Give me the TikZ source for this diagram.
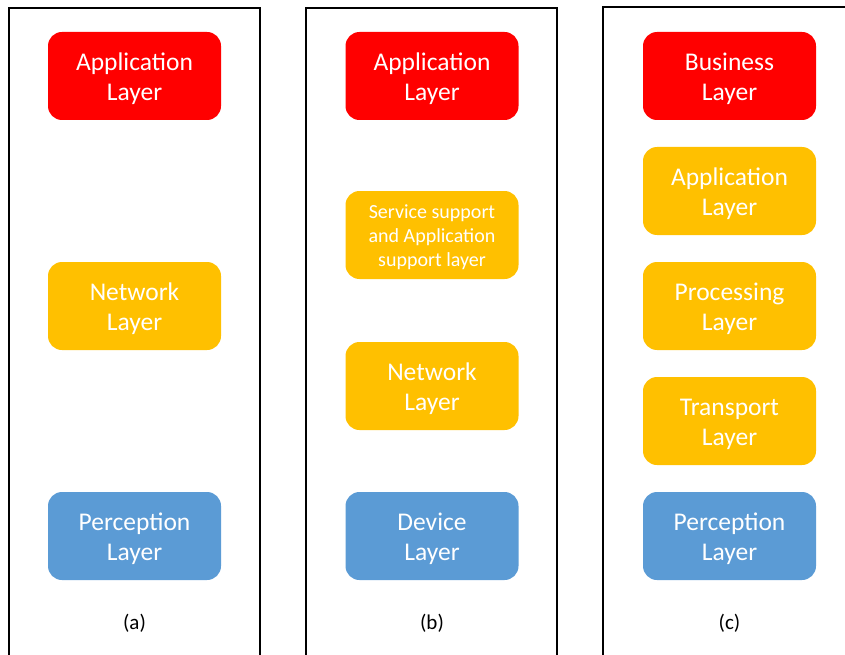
\documentclass[tikz,border=0pt]{standalone}
\usepackage{fontspec}
\setmainfont{Carlito}
\definecolor{lred}{HTML}{FF0000}
\definecolor{lorange}{HTML}{FFC000}
\definecolor{lblue}{HTML}{5B9BD5}
\begin{document}
\begin{tikzpicture}[x=1pt,y=-1pt,
  layer/.style={rounded corners=14pt,minimum width=173pt,minimum height=88pt,
    inner sep=0pt},
  redl/.style={layer,fill=lred},
  orl/.style={layer,fill=lorange},
  bll/.style={layer,fill=lblue},
  ltext/.style={text=white,align=center,inner sep=0pt,font=\fontsize{25.5}{30}\selectfont},
  stext/.style={text=white,align=center,inner sep=0pt,font=\fontsize{20}{24}\selectfont},
  panel/.style={draw=black,line width=2pt},
  captext/.style={font=\fontsize{21}{25}\selectfont}]
\useasboundingbox (0,0) rectangle (845,655);
\clip (0,0) rectangle (845,655);
\draw[panel] (9,680) -- (9,8) -- (260,8) -- (260,680);
\draw[panel] (306,680) -- (306,8) -- (557,8) -- (557,680);
\draw[panel] (603,680) -- (603,7) -- (860,7);
% (a)
\node[redl] (a1) at (134.5,76) {};
\node[ltext] (a1t) at ([yshift=-3pt]a1.center) {Application\\Layer};
\node[orl] (a2) at (134.5,306) {};
\node[ltext] (a2t) at ([yshift=-3pt]a2.center) {Network\\Layer};
\node[bll] (a3) at (134.5,536) {};
\node[ltext] (a3t) at ([yshift=-3pt]a3.center) {Perception\\Layer};
\node[captext] (la) at (134.5,623) {(a)};
% (b)
\node[redl] (b1) at (432,76) {};
\node[ltext] (b1t) at ([yshift=-3pt]b1.center) {Application\\Layer};
\node[orl] (b2) at (432,235) {};
\node[stext] (b2t) at ([yshift=-2pt]b2.center) {Service support\\and Application\\support layer};
\node[orl] (b3) at (432,386) {};
\node[ltext] (b3t) at ([yshift=-3pt]b3.center) {Network\\Layer};
\node[bll] (b4) at (432,536) {};
\node[ltext] (b4t) at ([yshift=-3pt]b4.center) {Device\\Layer};
\node[captext] (lb) at (432,623) {(b)};
% (c)
\node[redl] (c1) at (729.5,76) {};
\node[ltext] (c1t) at ([yshift=-3pt]c1.center) {Business\\Layer};
\node[orl] (c2) at (729.5,191) {};
\node[ltext] (c2t) at ([yshift=-3pt]c2.center) {Application\\Layer};
\node[orl] (c3) at (729.5,306) {};
\node[ltext] (c3t) at ([yshift=-3pt]c3.center) {Processing\\Layer};
\node[orl] (c4) at (729.5,421) {};
\node[ltext] (c4t) at ([yshift=-3pt]c4.center) {Transport\\Layer};
\node[bll] (c5) at (729.5,536) {};
\node[ltext] (c5t) at ([yshift=-3pt]c5.center) {Perception\\Layer};
\node[captext] (lc) at (729.5,623) {(c)};
\end{tikzpicture}
\end{document}
